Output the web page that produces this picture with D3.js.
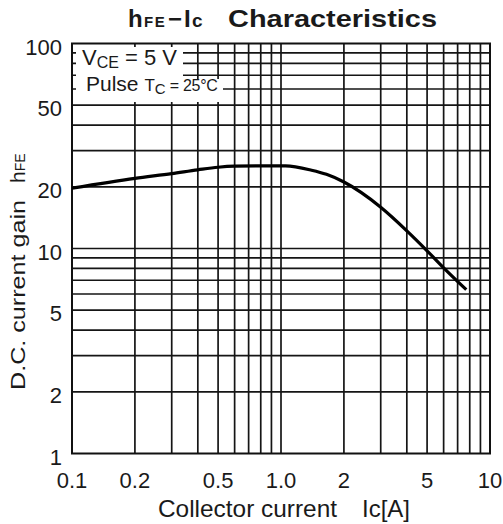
<!DOCTYPE html>
<html>
<head>
  <meta charset="UTF-8">
  <title>hFE - Ic Characteristics</title>
  <script src="https://d3js.org/d3.v7.min.js"></script>
  <style>
    body { margin: 0; background: #fff; }
    text { font-family: "Liberation Sans", Arial, sans-serif; fill: #1a1a1a; }
  </style>
</head>
<body>
  <svg width="503" height="524"></svg>

  <script>
    // Curve (collector current in A, hFE)
    const collectorCurrent = [0.1, 0.2, 0.3, 0.4, 0.5, 0.6, 0.8, 1.05, 1.4, 1.65, 2, 3, 4, 5, 6, 7.7];
    const dcGain = [19.7, 22.0, 23.2, 24.2, 24.9, 25.2, 25.3, 25.3, 24.1, 23.0, 21.1, 15.9, 12.2, 9.75, 8.05, 6.3];

    // Tick labels
    const xTickValues = [0.1, 0.2, 0.5, 1, 2, 5, 10];
    const xTickLabels = ["0.1", "0.2", "0.5", "1.0", "2", "5", "10"];
    const yTickValues = [1, 2, 5, 10, 20, 50, 100];
    const yTickLabels = ["1", "2", "5", "10", "20", "50", "100"];

    // Grid lines (every 1..9 per decade, borders excluded)
    const xGrid = [0.2, 0.3, 0.4, 0.5, 0.6, 0.7, 0.8, 0.9, 1, 2, 3, 4, 5, 6, 7, 8, 9];
    const yGrid = [2, 3, 4, 5, 6, 7, 8, 9, 10, 20, 30, 40, 50, 60, 70, 80, 90];

    const plot = { left: 72, right: 490, top: 43.5, bottom: 453.5 };

    const svg = d3.select("svg");

    const x = d3.scaleLog().domain([0.1, 10]).range([plot.left, plot.right]);
    const y = d3.scaleLog().domain([1, 100]).range([plot.bottom, plot.top]);

    // Grid
    const grid = svg.append("g")
      .attr("stroke", "#151515")
      .attr("stroke-width", 1.7);

    grid.selectAll(".vx")
      .data(xGrid)
      .join("line")
      .attr("x1", d => x(d)).attr("x2", d => x(d))
      .attr("y1", plot.top).attr("y2", plot.bottom);

    grid.selectAll(".hy")
      .data(yGrid)
      .join("line")
      .attr("x1", plot.left).attr("x2", plot.right)
      .attr("y1", d => y(d)).attr("y2", d => y(d));

    // White box behind the conditions text
    svg.append("rect")
      .attr("x", 76).attr("y", 47).attr("width", 107).attr("height", 33)
      .attr("fill", "#fff");
    svg.append("rect")
      .attr("x", 76).attr("y", 79).attr("width", 147).attr("height", 23)
      .attr("fill", "#fff");

    // Frame
    svg.append("rect")
      .attr("x", plot.left).attr("y", plot.top)
      .attr("width", plot.right - plot.left)
      .attr("height", plot.bottom - plot.top)
      .attr("fill", "none")
      .attr("stroke", "#111")
      .attr("stroke-width", 2);

    // Curve
    const line = d3.line()
      .x((d, i) => x(collectorCurrent[i]))
      .y(d => y(d))
      .curve(d3.curveMonotoneX);

    svg.append("path")
      .datum(dcGain)
      .attr("fill", "none")
      .attr("stroke", "#000")
      .attr("stroke-width", 3.2)
      .attr("stroke-linejoin", "round")
      .attr("d", line);

    // Tick labels
    svg.selectAll(".xt")
      .data(xTickValues)
      .join("text")
      .attr("x", d => x(d))
      .attr("y", 488)
      .attr("text-anchor", "middle")
      .style("font-size", "22px")
      .text((d, i) => xTickLabels[i]);

    svg.selectAll(".yt")
      .data(yTickValues)
      .join("text")
      .attr("x", 62)
      .attr("y", d => y(d) + 11)
      .attr("text-anchor", "end")
      .style("font-size", "22px")
      .text((d, i) => yTickLabels[i]);

    // Conditions
    const c1 = svg.append("text").attr("x", 82).attr("y", 65).style("font-size", "22px");
    c1.append("tspan").text("V");
    c1.append("tspan").attr("dy", 3).style("font-size", "16px").text("CE");
    c1.append("tspan").attr("dy", -3).text(" = 5 V");

    const c2 = svg.append("text").attr("x", 86).attr("y", 91).style("font-size", "21px");
    c2.append("tspan").text("Pulse ");
    c2.append("tspan").style("font-size", "17px").text("T");
    c2.append("tspan").attr("dy", 3).style("font-size", "15px").text("C");
    c2.append("tspan").attr("dy", -3).style("font-size", "16px").style("letter-spacing", "-0.3px").text(" = 25°C");

    // Title
    const t = svg.append("text").attr("y", 27)
      .style("font-weight", "bold").style("font-size", "24px");
    t.append("tspan").attr("x", 128).text("h");
    t.append("tspan").attr("x", 144).style("font-size", "15px").style("letter-spacing", "1.5px").text("FE");
    t.append("tspan").attr("x", 168).text("−");
    t.append("tspan").attr("x", 184).text("I");
    t.append("tspan").attr("x", 192).style("font-size", "19px").text("c");
    svg.append("text").attr("x", 228).attr("y", 27)
      .style("font-weight", "bold").style("font-size", "24px")
      .attr("textLength", 209).attr("lengthAdjust", "spacingAndGlyphs")
      .text("Characteristics");

    // X axis title
    svg.append("text").attr("x", 158).attr("y", 517)
      .style("font-size", "24px")
      .attr("textLength", 179).attr("lengthAdjust", "spacingAndGlyphs")
      .text("Collector current");
    svg.append("text").attr("x", 362).attr("y", 517)
      .style("font-size", "24px")
      .text("Ic[A]");

    // Y axis title
    const yt = svg.append("g").attr("transform", "translate(25,390) rotate(-90)");
    yt.append("text").attr("x", 0).attr("y", 0)
      .style("font-size", "20px")
      .attr("textLength", 190).attr("lengthAdjust", "spacingAndGlyphs")
      .text("D.C. current gain");
    const yh = yt.append("text").attr("x", 207).attr("y", 0).style("font-size", "21px");
    yh.append("tspan").text("h");
    yh.append("tspan").style("font-size", "14px").text("FE");
  </script>
</body>
</html>
